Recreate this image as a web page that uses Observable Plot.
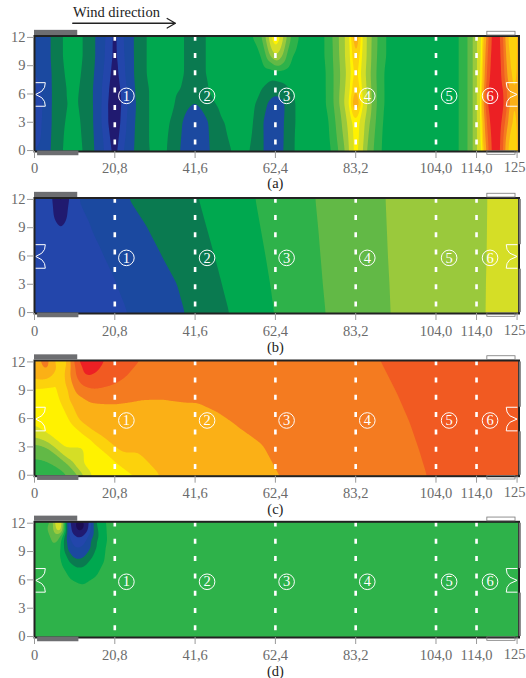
<!DOCTYPE html>
<html><head><meta charset="utf-8">
<script src="https://cdn.jsdelivr.net/npm/d3@7"></script>
<script src="https://cdn.jsdelivr.net/npm/@observablehq/plot@0.6"></script>
<style>html,body{margin:0;padding:0;background:#fff;overflow:hidden}svg{display:block}</style>
</head><body><div id="c"></div>
<script>
// Shared axes
const xTicks = [0,20.8,41.6,62.4,83.2,104,114.5,125];
const xLabels = ["0","20,8","41,6","62,4","83,2","104,0","114,0",""];
const lastTickLabel = "125";
const yTicks = [0,3,6,9,12];
const dashX = [20.8,41.6,62.4,83.2,104,114.5];
const circleX = [23.8,44.7,65.3,86.2,107.4,118];
const circleN = ["1","2","3","4","5","6"];
const levels = [0,1,2,3,4,5,6,7,8,9,10,10.5,11,12,13,14];
const levelColors = ["#1b0c52","#201a70","#2346ab","#1b49a0","#0a7a50","#00a84f","#2eb24a","#62b946","#9ac93c","#d5de26","#fff200","#fcd20c","#fbb016","#f47b20","#f15a22","#ec2024"];

// Panel (a): values on a non-uniform grid
const aX = [0,2.5,4.1,7.2,10,12.6,15.8,18.5,20.8,23,25.7,28.8,33, 36,38,39.5,41.6,43.7,45,48,53, 57,59,60.5,62.4,64.5,66,68, 72,75.5,78,80.5,82,83.2,84.5,86,88,90.5,100,110.5,113,114.5,115.8,117,118,119.5,121,122.3,124,125];
const aY = [12,10,8.2,6.5,5,3,0];
const aRow12 = [3.3,3.3,4,5,5.5,5,4,3,1.6,3,4,5,5.5, 5.3,5.1,4.9,4.6,4.9,5.1,5.5,5.7, 6,7,8.8,11.2,9,7.2,6, 5.6,6,7.5,9,10.5,11.8,10.5,9,7.5,6,5.5,6,7.5,8.9,10,11.8,14,14.6,14,11,10.4,11.2];
const aRow10 = [3.2,3.3,4,5,5.5,5,4,2.9,1.6,2.9,4,5,5.5, 5.3,5.1,4.9,4.6,4.9,5.1,5.5,5.6, 5.7,6,7.5,9.1,7.8,6.2,5.7, 5.6,6,7.4,9,10.3,11.2,10.3,9,7.4,6,5.5,6,7.5,8.9,10,12.5,14.1,14.7,14.1,11.5,10.4,11.2];
const aRow8 = [3,3.3,3.9,4.9,5.4,4.9,3.9,2.7,1.4,2.8,4,5,5.5, 5.3,5.1,4.9,4.6,4.9,5.1,5.5,5.5, 5.5,5.4,5.5,5.6,5.5,5.5,5.5, 5.6,5.9,7.3,8.8,10.1,10.9,10.1,8.8,7.3,5.9,5.5,6,7.5,8.9,10.1,13,14.2,14.8,14.2,12,10.5,11.2];
const aRow6 = [2.5,3.2,3.9,4.8,5.3,4.8,3.8,2.5,1.1,2.5,3.9,4.9,5.4, 5.2,5,4.7,4.4,4.7,5,5.5,5.5, 5.3,5,4.6,4.3,4.6,5,5.4, 5.6,5.9,7.3,9,10.3,11.3,10.3,9,7.4,5.9,5.5,6,7.5,8.9,10.2,13.8,14.4,14.9,14.4,13.2,10.6,11.3];
const aRow5 = [2.2,3.2,3.9,4.8,5.2,4.8,3.8,2.4,0.8,2.4,3.8,4.9,5.4, 5.1,4.6,4.2,3.95,4.3,4.7,5.2,5.4, 5.1,4.5,3.9,3.5,3.9,4.4,5.2, 5.5,5.9,7.3,9.2,10.6,11.9,10.6,9.2,7.4,5.9,5.5,6,7.5,8.9,10.2,14,14.5,14.9,14.5,13.4,10.6,11.3];
const aRow3 = [2.4,3.2,3.9,4.9,5.3,4.9,3.8,2.4,0.9,2.6,3.9,4.9,5.4, 4.8,4.1,3.6,3.3,3.6,4,4.9,5.3, 5,4.2,3.3,3.2,4,4.4,5.2, 5.5,5.6,7,8.6,9.9,10.5,9.9,8.6,7.2,5.8,5.5,6,7.5,8.9,10.1,13,14.2,14.8,14.2,12.4,10.5,11.2];
const aRow0 = [3,3.3,4,5,5.5,5,3.9,2.8,1.5,3,4,4.9,5.3, 4.6,3.9,3.4,3.2,3.5,3.9,4.7,5.2, 4.9,4.2,3.4,3.3,4,4.6,5.2, 5.4,5.4,6.6,8,9.6,10.5,9.6,8,6.9,5.7,5.5,6,7.5,8.9,10,11.8,14,14.6,14,11,10.4,11.2];
const aRows = [aRow12,aRow10,aRow8,aRow6,aRow5,aRow3,aRow0];

// Panel (b): x of each colour boundary at the heights bY
const bY = [12,9,6,3,0];
const bEdge3 = [11,14.5,18,21.5,24.4];
const bEdge4 = [24.4,29.2,33,37,39];
const bEdge5 = [42.6,44.6,46.6,48.5,50.4];
const bEdge6 = [57.2,58.5,59.8,61,62];
const bEdge7 = [72.7,73.4,74,74.6,75.3];
const bEdge8 = [90.8,91.1,91.4,91.8,92.1];
const bEdge9 = [117.5,117.4,117.3,117.1,117];
const bSpotX = [6.8,6.8,6.8,6.8,6.8,5,8.6,5,8.6,4,10,4,10,3,0,0,0,125,125,125];
const bSpotY = [12,10.5,9,7,5,12,12,10,10,12,12,7,7,3,12,6,0,12,6,0];
const bSpotV = [0.2,1.0,1.95,2.2,2.3,2,2,2.2,2.2,2.4,2.4,2.4,2.5,2.4,2.4,2.4,2.4,9.5,9.5,9.5];

// Panel (c): colour boundaries as (x,y) polylines plus a few peak values
const cEdge7X = [0,3,6,8.5,9.4], cEdge7Y = [1.9,1.7,1.1,0.5,0];
const cEdge8X = [0,3,6,9,11.5], cEdge8Y = [3.4,3.1,2.2,1.1,0];
const cEdge9X = [0,3,6,10,12.8], cEdge9Y = [4,3.7,2.8,1.2,0];
const cEdge10X = [0,3,6.8,12,14.1], cEdge10Y = [5,4.1,2.8,1,0];
const cEdge105X = [0,3,5.6,5.9,8.1,7.5,7,9.8,14.5,20.6,29.3], cEdge105Y = [9.4,9.5,10.5,12,12,9.5,8,5.6,3.9,1.8,0];
const cEdge11X = [9.3,9.2,11.5,16.5,22.5,32,0,2.5,4.5,5,8.7], cEdge11Y = [9,8,5.8,4.3,2.3,0,10.2,10.2,11,12,12];
const cEdge12X = [9,9.2,9.6,10.5,14,20,27,34,41.6,47,51.7,59.3,64.9,1.5,2.2,3.3,4.4,5], cEdge12Y = [12,10.5,9.5,8.6,7.8,7.6,8,8.1,7.7,6.7,5.4,3.2,0,12,11.2,10.7,11.2,12];
const cEdge13X = [27,24,20.6,15.4,12,10.6,10.4,88.3,93.7,97.3,99.9,101.6], cEdge13Y = [12,10.5,9.6,9.1,9.6,11.2,12,12,8.7,5.3,2.2,0];
const cEdge14X = [10.8,12,13.7,15.8,18], cEdge14Y = [12,10.8,10.4,10.8,12];
const cPeakX = [0,3.3,7,14,0,0,60,70,80,125,125,125,40,25,4,7,20], cPeakY = [0,12,12,11.6,12,7,12,6,0,12,6,0,3,5,7,11,11];
const cPeakV = [6.6,12.5,10.4,14.6,11.5,10.3,12.5,12.5,12.5,13.5,13.5,13.5,11.5,11.5,10.3,10.3,13.5];

// Panel (d): rings round the two spots
const dEdge7X = [4.4,4.6,5.2,6,7,7.7], dEdge7Y = [12,10.6,9.8,10,10.8,12];
const dEdge8X = [4.9,5.1,5.8,6.5,7.3], dEdge8Y = [12,11,10.5,11,12];
const dEdge10X = [5.6,6.2,6.8,7.1], dEdge10Y = [12,11.2,11.2,12];
const dRing6X = [8,7.4,7,7.8,9.5,12.4,15.5,17.5,18,17.7], dRing6Y = [12,10.5,9,7.5,6.3,5.7,6.4,8,10,12];
const dRing5X = [8.1,7.7,7.6,8.8,10.5,11.5,13,15,15.8,15.8], dRing5Y = [12,10.5,9,8,7.4,7.3,7.5,8.5,10,12];
const dRing4X = [8.3,8,8.4,10,11.4,13,14.8,15.3,15.3], dRing4Y = [12,10.5,9.2,8.3,8.1,8.4,9.5,10.8,12];
const dRing3X = [8.7,8.7,10,11.4,13,14.4,14.6], dRing3Y = [12,10.8,9.6,9.3,9.8,11,12];
const dRing2X = [9,9.5,11,12.5,14,14.3], dRing2Y = [12,11,10.5,10.6,11.2,12];
const dRing1X = [10.3,11,12,13,13.2], dRing1Y = [12,11.2,11,11.5,12];
const dFillX = [0,0,0,125,125,125,40,40,30,11.7,6.4,2], dFillY = [0,6,12,0,6,12,12,0,6,11.8,12,12];
const dFillV = [6.5,6.5,6.5,6.5,6.5,6.5,6.5,6.5,6.5,0.4,10.6,6.5];

// Site furniture (x and y in the chart's own units)
const doorLeftX = [0.3,2.8,2.6,1.9,0.3,1.9,2.6,2.8,0.3], doorRightX = [125,122.2,122.4,123.1,125,123.1,122.4,122.2,125];
const doorY = [7.2,7.2,6.7,6.3,5.95,5.6,5.2,4.7,4.7];
const greyBars = [{x1:0,x2:11.2,y1:12.2,y2:12.75},{x1:0.8,x2:11.5,y1:-0.55,y2:-0.05}];
const hatchBars = [{x1:117.3,x2:124.6,y1:12.2,y2:12.6},{x1:117.3,x2:124.6,y1:-0.45,y2:-0.08}];
const sideBars = [{y1:12,y2:7.2},{y1:4.6,y2:0}];
const windLabel = "Wind direction";

// Helpers that only reshape the arrays above
const grid = (xs,ys,rows) => ys.flatMap((y,j)=>xs.map((x,i)=>({x,y,v:rows[j][i]})));
const edge = (v,xs,ys) => xs.map((x,i)=>({x,y:ys[i],v}));
const spots = (xs,ys,vs) => xs.map((x,i)=>({x,y:ys[i],v:vs[i]}));
// Repeat the border readings outside the box, so the contour's blur has no edge inside it
const pad = pts => {
  const p1 = [...pts, ...pts.filter(d=>d.y===12).map(d=>({...d,y:15})), ...pts.filter(d=>d.y===0).map(d=>({...d,y:-3}))];
  return [...p1, ...p1.filter(d=>d.x===0).map(d=>({...d,x:-12})), ...p1.filter(d=>d.x===125).map(d=>({...d,x:137}))];
};

const aPts = grid(aX,aY,aRows);
const bPts = [...[[3,bEdge3],[4,bEdge4],[5,bEdge5],[6,bEdge6],[7,bEdge7],[8,bEdge8],[9,bEdge9]].flatMap(([v,xs])=>edge(v,xs,bY)), ...spots(bSpotX,bSpotY,bSpotV)];
const cPts = [...edge(7,cEdge7X,cEdge7Y),...edge(8,cEdge8X,cEdge8Y),...edge(9,cEdge9X,cEdge9Y),...edge(10,cEdge10X,cEdge10Y),...edge(10.5,cEdge105X,cEdge105Y),...edge(11,cEdge11X,cEdge11Y),...edge(12,cEdge12X,cEdge12Y),...edge(13,cEdge13X,cEdge13Y),...edge(14,cEdge14X,cEdge14Y),...spots(cPeakX,cPeakY,cPeakV)];
const dPts = [...edge(7,dEdge7X,dEdge7Y),...edge(8,dEdge8X,dEdge8Y),...edge(10,dEdge10X,dEdge10Y),...edge(6,dRing6X,dRing6Y),...edge(5,dRing5X,dRing5Y),...edge(4,dRing4X,dRing4Y),...edge(3,dRing3X,dRing3Y),...edge(2,dRing2X,dRing2Y),...edge(1,dRing1X,dRing1Y),...spots(dFillX,dFillY,dFillV)];

const serif = '"Liberation Serif","Times New Roman",serif';
const gray = "#6b6b6b";

function panel({pts,name,top,frameH,height,sides,capDy,tickDy,wind,blur}){
  const marks = [
    Plot.contour(pad(pts),{x:"x",y:"y",fill:"v",interpolate:"barycentric",x1:-12,x2:137,y1:-3,y2:15,width:575,height:170,blur,thresholds:levels,clip:true}),
    Plot.ruleX(dashX,{y1:12.13,y2:-0.1,stroke:"white",strokeWidth:2.6,strokeDasharray:"5 12.3"}),
    Plot.line(doorLeftX.map((x,i)=>({x,y:doorY[i]})),{x:"x",y:"y",stroke:"white",strokeWidth:1}),
    Plot.line(doorRightX.map((x,i)=>({x,y:doorY[i]})),{x:"x",y:"y",stroke:"white",strokeWidth:1}),
    Plot.dot(circleX,{x:d=>d,y:()=>5.8,r:7.8,stroke:"white",strokeWidth:1,fill:"none"}),
    Plot.text(circleX,{x:d=>d,y:()=>5.8,text:(d,i)=>circleN[i],fill:"white",fontSize:14.5,stroke:"none"}),
    Plot.frame({stroke:"#222",strokeWidth:2}),
    Plot.rect(greyBars,{x1:"x1",x2:"x2",y1:"y1",y2:"y2",fill:"#6d6e71"}),
    Plot.rect(hatchBars,{x1:"x1",x2:"x2",y1:"y1",y2:"y2",fill:"none",stroke:"#777",strokeWidth:0.8}),
    Plot.axisX(xTicks,{tickSize:7,tickPadding:tickDy,stroke:"#999",color:gray,fontSize:14.5,tickFormat:d=>xLabels[xTicks.indexOf(d)],anchor:"bottom",label:null}),
    Plot.text([lastTickLabel],{x:()=>125,frameAnchor:"bottom",lineAnchor:"middle",dy:tickDy+11.5,dx:8.5,textAnchor:"end",fontSize:14.5,fill:gray}),
    Plot.axisY(yTicks,{tickSize:7,tickPadding:2,stroke:"#999",color:gray,fontSize:14.5,anchor:"left",label:null}),
    Plot.text([name],{x:()=>62.4,frameAnchor:"bottom",lineAnchor:"middle",dy:capDy,fontSize:14.5,fill:"#222"})
  ];
  if(sides) marks.push(Plot.rect(sideBars,{x1:()=>125.55,x2:()=>126.1,y1:"y1",y2:"y2",fill:"#777"}));
  if(wind){
    marks.push(Plot.text([windLabel],{x:()=>10,y:()=>14.65,text:d=>d,textAnchor:"start",fontSize:14.5,fill:"#222"}));
    marks.push(Plot.arrow([{x1:9.9,x2:36.5,y:13.5}],{x1:"x1",x2:"x2",y1:"y",y2:"y",stroke:"#222",strokeWidth:1.3,headLength:11,bend:0}));
  }
  return Plot.plot({
    width:526,height,
    marginLeft:34,marginRight:7.5,marginTop:top,marginBottom:height-top-frameH,
    x:{domain:[0,125.5]},
    y:{domain:[-0.1,12.15]},
    color:{type:"threshold",domain:levels.slice(1),range:levelColors},
    style:{fontFamily:serif,background:"transparent",overflow:"visible"},
    marks
  });
}

const host = document.getElementById("c");
host.append(
  panel({pts:aPts,name:"(a)",top:35.5,frameH:115.5,height:188,sides:false,capDy:32,tickDy:4,wind:true,blur:2}),
  panel({pts:bPts,name:"(b)",top:9.5,frameH:115.5,height:162,sides:true,capDy:34,tickDy:5,wind:false,blur:3}),
  panel({pts:cPts,name:"(c)",top:10,frameH:115.7,height:162,sides:true,capDy:33.5,tickDy:5,wind:false,blur:3}),
  panel({pts:dPts,name:"(d)",top:9.3,frameH:115.7,height:166,sides:true,capDy:34,tickDy:5,wind:false,blur:2})
);
</script></body></html>
